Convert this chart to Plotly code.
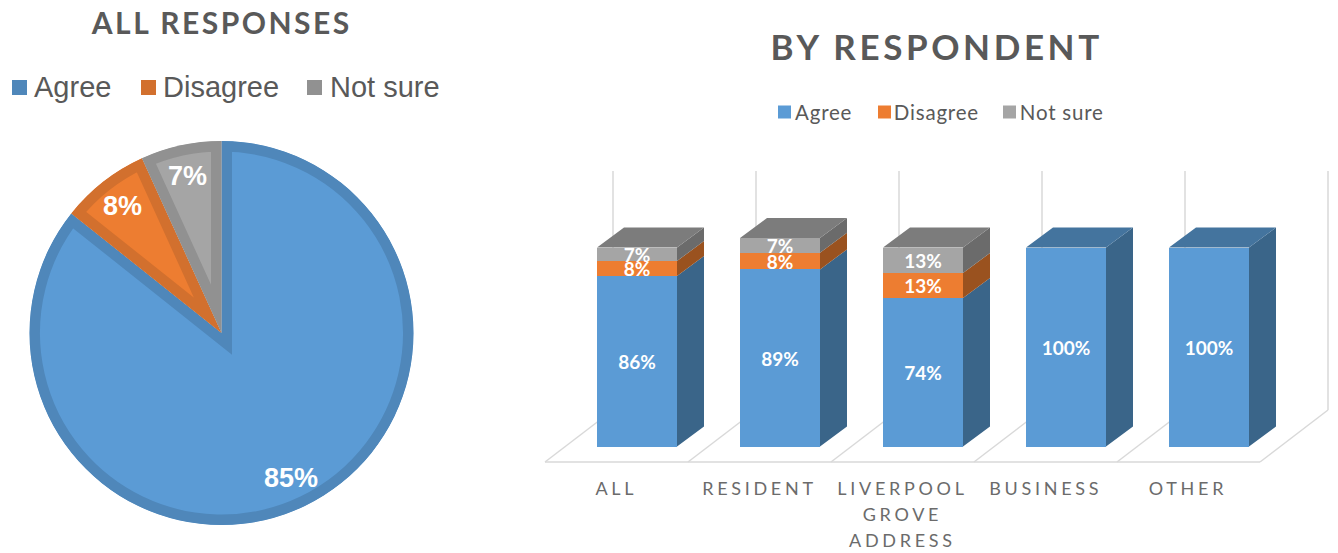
import json
import math
import plotly.graph_objects as go

W, H = 1338, 553

# ---------- data ----------
pie_labels = ["Agree", "Disagree", "Not sure"]
pie_values = [85.7, 7.5, 6.8]
pie_text = ["85%", "8%", "7%"]

categories = ["ALL", "RESIDENT", "LIVERPOOL GROVE ADDRESS", "BUSINESS", "OTHER"]
category_lines = [["ALL"], ["RESIDENT"], ["LIVERPOOL", "GROVE", "ADDRESS"], ["BUSINESS"], ["OTHER"]]
agree = [85.7, 89.0, 74.6, 100, 100]
disagree = [7.5, 8.3, 12.6, 0, 0]
not_sure = [6.8, 7.5, 12.8, 0, 0]
agree_text = ["86%", "89%", "74%", "100%", "100%"]
disagree_text = ["8%", "8%", "13%", "", ""]
not_sure_text = ["7%", "7%", "13%", "", ""]

# ---------- styles ----------
FRONT = ["#5B9BD5", "#ED7D31", "#A5A5A5"]
SIDE = ["#3A6589", "#9A521F", "#6B6B6B"]
TOP = ["#44749E", "#B5602A", "#7C7C7C"]
PIE_EDGE = ["#4F87BA", "#D2702E", "#919191"]
GRID = "#D9D9D9"
TEXT = "#595959"
AXIS_TEXT = "#6B6B6B"
SANS = "Liberation Sans"
CAL = "Lato"


def px(x):
    return x / W


def py(y):
    return 1 - y / H


# geometry of the 3-D chart in pixels -> axis scales
X0_PX, X_UNIT = 637.0, 143.0
Y0_PX, Y_UNIT = 446.5, 1.99
DOM_X = (540, 1338)
DOM_Y = (150, 470)
xrange_ = [(DOM_X[0] - X0_PX) / X_UNIT, (DOM_X[1] - X0_PX) / X_UNIT]
yrange_ = [(Y0_PX - DOM_Y[1]) / Y_UNIT, (Y0_PX - DOM_Y[0]) / Y_UNIT]
BAR_W = 80 / X_UNIT
DX = 27 / X_UNIT
DY = 20 / Y_UNIT

fig = go.Figure()

# ---------- pie ----------
CX, CY, R = 221.5, 333.0, 192.0
fig.add_trace(go.Pie(
    labels=pie_labels, values=pie_values, sort=False, direction="clockwise", rotation=0,
    textinfo="none", hoverinfo="label+percent", showlegend=False,
    marker=dict(colors=FRONT, line=dict(color=PIE_EDGE, width=21)),
    domain=dict(x=[px(CX - R), px(CX + R)], y=[py(CY + R), py(CY - R)]),
))

annotations = []
cum = 0
total = sum(pie_values)
for v, t in zip(pie_values, pie_text):
    ang = 2 * math.pi * (cum + v / 2) / total
    cum += v
    annotations.append(dict(
        x=px(CX + 161 * math.sin(ang)), y=py(CY - 161 * math.cos(ang)),
        xref="paper", yref="paper", text=f"<b>{t}</b>", showarrow=False,
        xanchor="center", yanchor="middle",
        font=dict(family=SANS, size=27, color="white"),
    ))

# ---------- stacked bars ----------
series = [agree, disagree, not_sure]
texts = [agree_text, disagree_text, not_sure_text]
xs = list(range(len(categories)))
for k, name in enumerate(pie_labels):
    fig.add_trace(go.Bar(
        x=xs, y=series[k], name=name, width=BAR_W, text=texts[k],
        textposition="inside", insidetextanchor="middle", textangle=0, constraintext="none",
        insidetextfont=dict(family=CAL, size=19, color="white", weight="bold"),
        marker=dict(color=FRONT[k], line=dict(width=0)), showlegend=False,
        xaxis="x", yaxis="y",
    ))

# side faces per series, top face coloured by the uppermost series of each bar
for k in range(3):
    sx, sy = [], []
    for i in xs:
        if series[k][i] <= 0:
            continue
        base = sum(series[j][i] for j in range(k))
        r = i + BAR_W / 2
        sx += [r, r + DX, r + DX, r, r, None]
        sy += [base, base + DY, base + series[k][i] + DY, base + series[k][i], base, None]
    fig.add_trace(go.Scatter(x=sx, y=sy, mode="none", fill="toself", fillcolor=SIDE[k],
                             showlegend=False, hoverinfo="skip"))

for k in range(3):
    tx, ty = [], []
    for i in xs:
        above = sum(series[j][i] for j in range(k + 1, 3))
        if series[k][i] <= 0 or above > 0:
            continue
        t = sum(series[j][i] for j in range(3))
        l, r = i - BAR_W / 2, i + BAR_W / 2
        tx += [l, r, r + DX, l + DX, l, None]
        ty += [t, t, t + DY, t + DY, t, None]
    if tx:
        fig.add_trace(go.Scatter(x=tx, y=ty, mode="none", fill="toself", fillcolor=TOP[k],
                                 showlegend=False, hoverinfo="skip"))

# ---------- floor and back gridlines ----------
FLOOR_L = (545 - X0_PX) / X_UNIT
FLOOR_Y = (Y0_PX - 462) / Y_UNIT
BACK_DX = 68 / X_UNIT
BACK_Y = (Y0_PX - 410) / Y_UNIT
TOP_Y = (Y0_PX - 171) / Y_UNIT
shapes = []
line = dict(color=GRID, width=1.5)
shapes.append(dict(type="line", layer="below", xref="x", yref="y",
                   x0=FLOOR_L, x1=FLOOR_L + len(categories), y0=FLOOR_Y, y1=FLOOR_Y, line=line))
for n in range(len(categories) + 1):
    xf = FLOOR_L + n
    shapes.append(dict(type="line", layer="below", xref="x", yref="y",
                       x0=xf, x1=xf + BACK_DX, y0=FLOOR_Y, y1=BACK_Y, line=line))
    shapes.append(dict(type="line", layer="below", xref="x", yref="y",
                       x0=xf + BACK_DX, x1=xf + BACK_DX, y0=BACK_Y, y1=TOP_Y, line=line))

# ---------- category labels ----------
for i, lines in enumerate(category_lines):
    for n, ln in enumerate(lines):
        annotations.append(dict(
            x=i - 21 / X_UNIT, y=py(488 + 26 * n), xref="x", yref="paper", text=ln,
            showarrow=False, xanchor="center", yanchor="middle",
            font=dict(family=CAL, size=18, color=AXIS_TEXT),
        ))

# ---------- titles ----------
annotations.append(dict(x=px(221), y=py(22), xref="paper", yref="paper", text="<b>ALL RESPONSES</b>",
                        showarrow=False, xanchor="center", yanchor="middle",
                        font=dict(family=CAL, size=30, color=TEXT)))
annotations.append(dict(x=px(937), y=py(46), xref="paper", yref="paper", text="<b>BY RESPONDENT</b>",
                        showarrow=False, xanchor="center", yanchor="middle",
                        font=dict(family=CAL, size=35, color=TEXT)))


# ---------- hand-placed legends ----------
def legend(items_x, text_x, yc, size, colors, font):
    for name, sx, tx, c in zip(pie_labels, items_x, text_x, colors):
        shapes.append(dict(type="rect", xref="paper", yref="paper", layer="above",
                           x0=px(sx), x1=px(sx + size), y0=py(yc + size / 2), y1=py(yc - size / 2),
                           fillcolor=c, line=dict(width=0)))
        annotations.append(dict(x=px(tx), y=py(yc), xref="paper", yref="paper", text=name,
                                showarrow=False, xanchor="left", yanchor="middle", font=font))


legend([12, 141, 307], [32, 161, 328], 87.5, 15, PIE_EDGE, dict(family=SANS, size=29, color=TEXT))
legend([778, 878, 1003], [795, 895, 1021], 112, 13, FRONT, dict(family=CAL, size=20.5, color=TEXT))

fig.update_layout(
    width=W, height=H, autosize=False, margin=dict(l=0, r=0, t=0, b=0),
    paper_bgcolor="white", plot_bgcolor="rgba(0,0,0,0)",
    barmode="stack", bargap=0, showlegend=False,
    xaxis=dict(domain=[px(DOM_X[0]), px(DOM_X[1])], range=xrange_, visible=False, fixedrange=True),
    yaxis=dict(domain=[py(DOM_Y[1]), py(DOM_Y[0])], range=yrange_, visible=False, fixedrange=True),
    shapes=shapes, annotations=annotations,
)

spacing = {ln: "3.7px" for lines in category_lines for ln in lines}
spacing["<b>ALL RESPONSES</b>"] = "2.5px"
spacing["<b>BY RESPONDENT</b>"] = "3.6px"
legend_spacing = "0.8px"

post = """
document.body.style.margin = '0';
var svgNS = 'http://www.w3.org/2000/svg';
var spacing = %s;
var legendSpacing = %s;
document.querySelectorAll('.annotation-text').forEach(function (t) {
  var key = t.getAttribute('data-unformatted');
  if (spacing[key]) { t.style.letterSpacing = spacing[key]; }
  if (parseFloat(t.style.fontSize) === 20.5) { t.style.letterSpacing = legendSpacing; }
});
document.querySelectorAll('.slice path.surface').forEach(function (p, i) {
  var svg = p.ownerSVGElement;
  var cp = document.createElementNS(svgNS, 'clipPath');
  cp.setAttribute('id', 'slice-inner-' + i);
  var cpp = document.createElementNS(svgNS, 'path');
  cpp.setAttribute('d', p.getAttribute('d'));
  cp.appendChild(cpp);
  svg.appendChild(cp);
  p.setAttribute('clip-path', 'url(#slice-inner-' + i + ')');
  p.style.strokeLinejoin = 'miter';
  p.style.strokeMiterlimit = '10';
});
""" % (json.dumps(spacing), json.dumps(legend_spacing))

fig.write_html("out.html", post_script=post, config=dict(displayModeBar=False))
